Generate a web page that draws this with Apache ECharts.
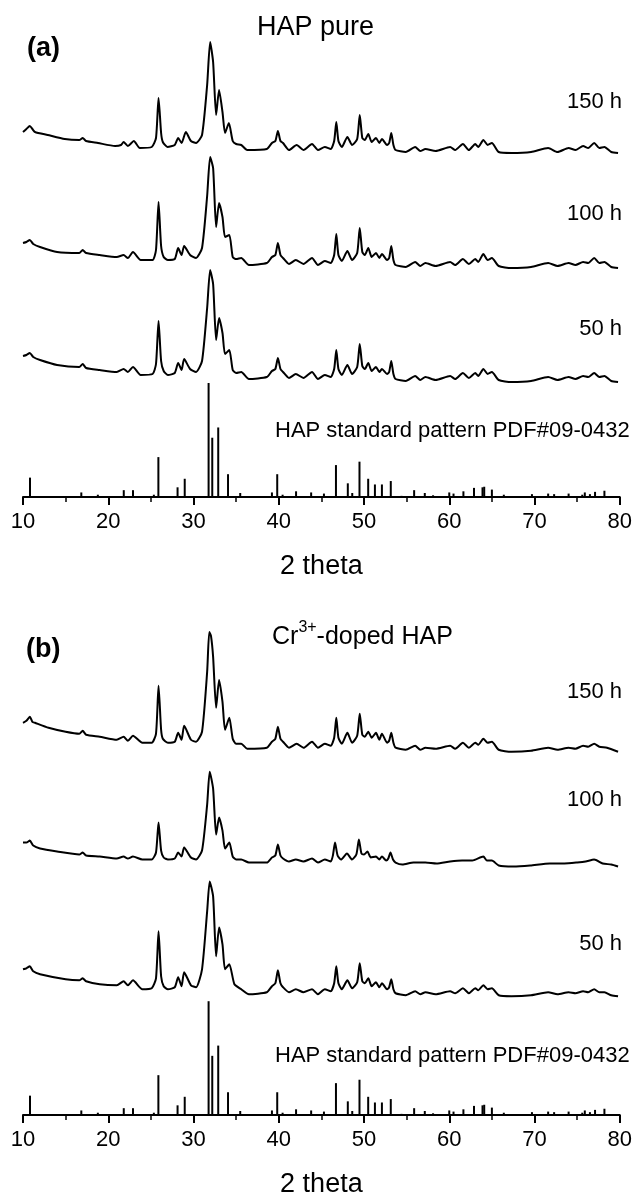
<!DOCTYPE html>
<html lang="en">
  <head>
    <meta charset="UTF-8" />
    <script src="https://cdn.jsdelivr.net/npm/echarts@6/dist/echarts.min.js"></script>
    <style>
      html, body { margin: 0; padding: 0; background: #fff; }
      #main { width: 635px; height: 1199px; }
    </style>
    <title>HAP XRD</title>
  </head>
  <body>
    <div id="main"></div>
    <script>
      // HAP standard pattern PDF#09-0432: [2theta, relative intensity %]
      const stdPattern = [
        [10.82, 17], [16.84, 4], [18.78, 2], [21.82, 6], [22.9, 6], [25.35, 2],
        [25.88, 35], [28.13, 8.5], [28.97, 16], [31.77, 100], [32.2, 52], [32.9, 61],
        [34.05, 20], [35.48, 3.5], [39.2, 4], [39.82, 20], [40.45, 2], [42.03, 5],
        [43.8, 4], [45.3, 3], [46.71, 28], [48.1, 12], [48.62, 3.5], [49.47, 31],
        [50.49, 16], [51.28, 11], [52.1, 11], [53.14, 14], [54.4, 1], [55.88, 6],
        [57.13, 3.5], [58.1, 1.5], [60.0, 4], [60.5, 3], [61.66, 5], [62.9, 8],
        [63.9, 8.5], [64.1, 9], [65.0, 6.5], [66.4, 2], [69.7, 2.5], [71.6, 3],
        [72.3, 2.5], [74.0, 3], [75.6, 2], [75.9, 4], [76.5, 2.5], [77.1, 4.5], [78.2, 5.5]
      ];

      // measured patterns, [2theta, intensity a.u.] above each curve's own base
      const pureH150 = [
        [10.0, 21], [10.4, 24], [10.8, 27], [11.1, 24], [11.4, 21], [12.9, 18], [14.9, 14],
        [16.6, 13], [17.0, 15], [17.4, 12], [18.8, 10], [20.8, 7], [21.5, 8], [21.8, 11],
        [22.3, 7], [23.0, 12], [23.7, 5], [25.1, 6], [25.6, 15], [25.9, 55], [26.2, 20],
        [26.4, 11], [26.95, 6], [27.8, 8], [28.2, 15], [28.6, 10], [29.1, 21], [29.7, 12],
        [30.3, 10], [31.0, 18], [31.6, 68], [31.95, 111], [32.3, 91], [32.65, 38], [33.0, 63],
        [33.4, 41], [33.7, 20], [34.15, 30], [34.6, 12], [35.0, 9], [35.6, 8], [36.3, 3],
        [38.6, 4], [39.2, 10], [39.6, 12], [39.9, 22], [40.2, 12], [40.5, 10], [41.2, 3],
        [42.1, 8], [42.9, 3], [43.9, 9], [44.6, 3], [45.4, 6], [46.1, 4], [46.5, 12],
        [46.75, 31], [47.0, 12], [47.4, 6], [48.05, 16], [48.6, 8], [49.2, 14], [49.5, 38],
        [49.8, 15], [50.1, 13], [50.5, 19], [50.9, 11], [51.4, 15], [51.8, 10], [52.1, 14],
        [52.7, 8], [52.95, 10], [53.2, 20], [53.45, 8], [53.7, 3], [54.9, 1], [56.0, 6],
        [56.6, 2], [57.2, 4], [58.4, 2], [60.1, 6], [60.7, 3], [61.6, 9], [62.3, 3],
        [63.05, 9], [63.4, 6], [64.0, 13], [64.5, 8], [65.0, 10], [65.8, 1], [67.3, 0],
        [69.6, 1], [71.6, 5], [72.7, 1], [74.0, 5], [74.8, 3], [75.7, 7], [76.3, 5],
        [77.0, 10], [77.6, 5], [78.2, 6], [79.0, 1], [79.8, 0]
      ];
      const pureH100 = [
        [10.0, 25], [10.4, 26], [10.8, 28], [11.2, 24], [12.0, 21], [14.0, 16], [16.6, 15],
        [17.0, 18], [17.4, 15], [19.0, 13], [21.0, 11], [21.8, 13], [22.3, 10], [22.9, 16],
        [23.8, 8], [25.2, 8], [25.6, 18], [25.9, 66], [26.2, 22], [26.5, 11], [27.0, 8],
        [27.8, 9], [28.2, 20], [28.6, 13], [28.9, 22], [29.6, 13], [30.3, 10], [31.0, 20],
        [31.6, 72], [31.95, 111], [32.3, 100], [32.65, 41], [33.0, 65], [33.4, 51], [33.7, 31],
        [34.2, 33], [34.6, 11], [35.0, 9], [35.6, 10], [36.5, 3], [38.6, 5], [39.2, 11],
        [39.6, 13], [39.9, 25], [40.2, 13], [40.5, 10], [41.2, 4], [42.0, 8], [42.9, 4],
        [43.9, 10], [44.6, 3], [45.4, 7], [46.1, 5], [46.5, 13], [46.75, 34], [47.0, 13],
        [47.4, 7], [48.05, 17], [48.6, 8], [49.2, 15], [49.5, 40], [49.8, 16], [50.1, 13],
        [50.5, 20], [50.9, 11], [51.4, 15], [51.8, 10], [52.1, 14], [52.7, 8], [52.95, 10],
        [53.2, 22], [53.45, 8], [53.7, 3], [54.9, 1], [56.0, 6], [56.6, 2], [57.2, 5],
        [58.4, 2], [60.1, 6], [60.7, 3], [61.6, 9], [62.3, 4], [63.05, 9], [63.4, 6],
        [64.0, 14], [64.5, 8], [65.0, 10], [65.8, 2], [67.3, 0], [69.6, 1], [71.6, 5],
        [72.7, 2], [74.0, 5], [74.8, 3], [75.7, 6], [76.3, 5], [77.0, 10], [77.6, 5],
        [78.2, 6], [79.0, 1], [79.8, 0]
      ];
      const pureH50 = [
        [10.0, 26], [10.4, 27], [10.8, 29], [11.2, 25], [12.0, 22], [14.0, 17], [16.6, 15],
        [17.0, 18], [17.4, 14], [19.0, 12], [21.0, 10], [21.8, 13], [22.3, 10], [22.9, 15],
        [23.8, 7], [25.2, 8], [25.6, 18], [25.9, 61], [26.2, 21], [26.5, 11], [27.0, 7],
        [27.8, 9], [28.2, 19], [28.6, 12], [28.9, 23], [29.6, 13], [30.3, 10], [31.0, 21],
        [31.6, 74], [31.95, 112], [32.3, 98], [32.65, 42], [33.0, 64], [33.4, 49], [33.7, 28],
        [34.2, 32], [34.6, 12], [35.0, 9], [35.6, 10], [36.5, 3], [38.6, 5], [39.2, 11],
        [39.6, 13], [39.9, 24], [40.2, 13], [40.5, 10], [41.2, 4], [42.0, 8], [42.9, 4],
        [43.9, 10], [44.6, 3], [45.4, 7], [46.1, 5], [46.5, 13], [46.75, 32], [47.0, 13],
        [47.4, 7], [48.05, 17], [48.6, 8], [49.2, 15], [49.5, 38], [49.8, 16], [50.1, 13],
        [50.5, 19], [50.9, 11], [51.4, 15], [51.8, 10], [52.1, 13], [52.7, 8], [52.95, 10],
        [53.2, 21], [53.45, 8], [53.7, 3], [54.9, 1], [56.0, 6], [56.6, 2], [57.2, 5],
        [58.4, 2], [60.1, 6], [60.7, 3], [61.6, 9], [62.3, 4], [63.05, 9], [63.4, 6],
        [64.0, 13], [64.5, 8], [65.0, 10], [65.8, 2], [67.3, 0], [69.6, 1], [71.6, 5],
        [72.7, 2], [74.0, 5], [74.8, 3], [75.7, 6], [76.3, 5], [77.0, 9], [77.6, 5],
        [78.2, 6], [79.0, 1], [79.8, 0]
      ];

      const crH150 = [
        [10.0, 29], [10.4, 31], [10.8, 35], [11.1, 30], [11.4, 29], [13.0, 24], [15.0, 20],
        [16.6, 18], [17.0, 21], [17.4, 17], [19.0, 15], [21.0, 12], [21.8, 15], [22.3, 11],
        [22.9, 16], [24.0, 9], [25.1, 9], [25.6, 18], [25.9, 66], [26.2, 22], [26.4, 13],
        [27.0, 9], [27.8, 10], [28.2, 19], [28.6, 12], [28.9, 26], [29.7, 12], [30.3, 10],
        [31.0, 20], [31.6, 80], [31.85, 120], [32.05, 116], [32.3, 95], [32.65, 44], [33.0, 72],
        [33.4, 50], [33.7, 22], [34.2, 34], [34.6, 13], [35.0, 8], [35.6, 8], [36.3, 3],
        [38.6, 4], [39.2, 10], [39.6, 13], [39.9, 25], [40.2, 13], [40.5, 10], [41.2, 4],
        [42.1, 8], [42.9, 4], [43.9, 10], [44.6, 4], [45.4, 8], [46.1, 6], [46.5, 14],
        [46.75, 34], [47.0, 14], [47.4, 8], [48.05, 19], [48.6, 9], [49.2, 16], [49.5, 38],
        [49.8, 17], [50.1, 15], [50.5, 20], [50.9, 14], [51.4, 19], [51.8, 12], [52.1, 18],
        [52.7, 9], [52.95, 11], [53.2, 19], [53.45, 9], [53.7, 4], [54.9, 2], [56.0, 6],
        [56.6, 2], [57.2, 4], [58.4, 3], [60.1, 6], [60.7, 3], [61.6, 9], [62.3, 4],
        [63.05, 9], [63.4, 7], [64.0, 13], [64.5, 9], [65.0, 10], [65.8, 2], [67.3, 0],
        [69.6, 1], [71.6, 4], [72.7, 2], [74.0, 4], [74.8, 3], [75.7, 6], [76.3, 5],
        [77.0, 8], [77.6, 5], [78.5, 4], [79.8, 0]
      ];
      const crH100 = [
        [10.0, 24], [10.4, 24], [10.8, 26], [11.2, 21], [12.0, 18], [14.0, 15], [16.6, 12],
        [17.0, 14], [17.4, 11], [19.0, 10], [21.0, 8], [21.8, 10], [22.3, 8], [22.9, 10],
        [24.0, 7], [25.1, 7], [25.6, 14], [25.9, 44], [26.2, 16], [26.5, 9], [27.0, 7],
        [27.8, 8], [28.2, 14], [28.6, 10], [28.9, 19], [29.7, 9], [30.3, 7], [31.0, 16],
        [31.6, 62], [31.9, 95], [32.3, 78], [32.65, 32], [33.0, 49], [33.4, 36], [33.7, 18],
        [34.2, 24], [34.6, 10], [35.0, 7], [35.6, 7], [36.5, 4], [38.6, 4], [39.2, 9],
        [39.6, 11], [39.9, 22], [40.2, 11], [40.5, 8], [41.2, 5], [42.0, 7], [42.9, 5],
        [43.9, 8], [44.6, 4], [45.4, 7], [46.1, 5], [46.35, 11], [46.6, 24], [46.9, 11],
        [47.3, 7], [48.0, 13], [48.6, 7], [49.1, 12], [49.4, 27], [49.7, 13], [50.0, 12],
        [50.4, 15], [50.8, 9], [51.4, 10], [51.8, 7], [52.1, 10], [52.6, 6], [52.85, 8],
        [53.1, 14], [53.4, 7], [53.7, 4], [54.5, 2], [55.8, 4], [57.2, 4], [58.5, 3],
        [60.1, 5], [61.5, 6], [62.7, 6], [64.0, 10], [64.4, 6], [65.0, 6], [65.8, 1],
        [67.5, 0], [69.5, 1], [71.8, 3], [73.5, 3], [75.0, 4], [76.0, 5], [77.0, 7],
        [78.0, 3], [79.0, 2], [79.8, 0]
      ];
      const crH50 = [
        [10.0, 27], [10.4, 28], [10.8, 30], [11.2, 25], [12.0, 22], [15.0, 17], [16.6, 16],
        [17.0, 18], [17.4, 15], [19.0, 12], [21.0, 11], [21.8, 15], [22.3, 11], [22.9, 16],
        [24.0, 7], [25.1, 8], [25.6, 18], [25.9, 65], [26.2, 20], [26.5, 10], [27.0, 7],
        [27.8, 9], [28.2, 19], [28.6, 10], [28.9, 24], [29.7, 11], [30.3, 9], [31.0, 27],
        [31.6, 85], [31.9, 115], [32.3, 100], [32.65, 40], [33.0, 69], [33.4, 52], [33.7, 27],
        [34.2, 32], [34.8, 12], [35.6, 7], [36.5, 2], [38.6, 4], [39.2, 10], [39.6, 13],
        [39.9, 26], [40.2, 13], [40.5, 9], [41.2, 4], [42.0, 7], [42.9, 4], [43.9, 7],
        [44.6, 2], [45.4, 7], [46.1, 5], [46.5, 13], [46.75, 30], [47.0, 13], [47.4, 7],
        [48.05, 16], [48.6, 8], [49.2, 14], [49.5, 33], [49.8, 15], [50.1, 13], [50.5, 18],
        [50.9, 10], [51.4, 14], [51.8, 9], [52.1, 13], [52.7, 7], [52.95, 9], [53.2, 17],
        [53.45, 7], [53.7, 3], [54.9, 1], [56.0, 5], [56.6, 2], [57.2, 4], [58.4, 2],
        [60.1, 5], [60.7, 3], [61.6, 8], [62.3, 3], [63.05, 8], [63.4, 6], [64.0, 11],
        [64.5, 7], [65.0, 8], [65.8, 1], [67.3, 0], [69.6, 1], [71.6, 4], [72.7, 2],
        [74.0, 4], [74.8, 3], [75.7, 5], [76.3, 4], [77.0, 7], [77.6, 4], [78.2, 4],
        [79.0, 1], [79.8, 0]
      ];

      // vertical stacking offsets (a.u.) for 150 h, 100 h, 50 h
      const offsetsPure = [344, 229, 115];
      const offsetsCr = [364, 249, 119];
      const timeLabels = ["150 h", "100 h", "50 h"];
      const xTicks = [10, 20, 30, 40, 50, 60, 70, 80];

      const chart = echarts.init(document.getElementById("main"));

      function shift(data, off) {
        return data.map((p) => [p[0], p[1] + off]);
      }

      function xAxisFor(gridIndex) {
        return {
          gridIndex: gridIndex,
          type: "value",
          min: xTicks[0],
          max: xTicks[xTicks.length - 1],
          interval: 10,
          name: "2 theta",
          nameLocation: "middle",
          nameGap: 56,
          nameTextStyle: { fontSize: 27, color: "#000", fontFamily: "Liberation Sans" },
          axisLine: { lineStyle: { color: "#000", width: 2 } },
          axisTick: { length: 8, lineStyle: { color: "#000", width: 2 } },
          minorTick: { show: true, splitNumber: 2, length: 5, lineStyle: { color: "#000", width: 1.5 } },
          axisLabel: { color: "#000", fontSize: 22, margin: 14, fontFamily: "Liberation Sans" },
          splitLine: { show: false },
        };
      }

      const series = [];
      const panels = [
        { traces: [pureH150, pureH100, pureH50], offsets: offsetsPure },
        { traces: [crH150, crH100, crH50], offsets: offsetsCr },
      ];
      panels.forEach((panel, g) => {
        panel.traces.forEach((tr, i) => {
          series.push({
            type: "line",
            xAxisIndex: g,
            yAxisIndex: g * 2,
            data: shift(tr, panel.offsets[i]),
            showSymbol: false,
            smooth: 0.2,
            lineStyle: { color: "#000", width: 2 },
            silent: true,
          });
        });
        series.push({
          type: "bar",
          xAxisIndex: g,
          yAxisIndex: g * 2 + 1,
          data: stdPattern,
          barWidth: 2,
          itemStyle: { color: "#000" },
          silent: true,
        });
      });

      const font = "Liberation Sans";
      function txt(text, pos, size, bold) {
        return Object.assign(
          {
            type: "text",
            style: {
              text: text,
              fontSize: size,
              fontWeight: bold ? "bold" : "normal",
              fill: "#000",
              fontFamily: font,
            },
          },
          pos
        );
      }

      const graphics = [
        txt("HAP pure", { left: 257, top: 14 }, 27),
        txt("(a)", { left: 27, top: 35 }, 27, true),
        txt("HAP standard pattern PDF#09-0432", { left: 275, top: 420 }, 22),
        txt("(b)", { left: 26, top: 636 }, 27, true),
        {
          type: "text",
          left: 272,
          top: 620,
          style: {
            rich: {
              n: { fontSize: 25, fill: "#000", fontFamily: font, lineHeight: 30, verticalAlign: "bottom" },
              s: { fontSize: 16, fill: "#000", fontFamily: font, lineHeight: 30, verticalAlign: "top" },
            },
            text: "{n|Cr}{s|3+}{n|-doped HAP}",
          },
        },
        txt("HAP standard pattern PDF#09-0432", { left: 275, top: 1045 }, 22),
      ];
      const labelTopsPure = [91, 203, 318];
      const labelTopsCr = [681, 789, 933];
      timeLabels.forEach((t, i) => {
        graphics.push(txt(t, { right: 13, top: labelTopsPure[i] }, 22));
        graphics.push(txt(t, { right: 13, top: labelTopsCr[i] }, 22));
      });

      chart.setOption({
        animation: false,
        backgroundColor: "#fff",
        grid: [
          { left: 23, right: 13, top: 0, bottom: 702 },
          { left: 23, right: 13, top: 620, bottom: 83 },
        ],
        xAxis: [xAxisFor(0), xAxisFor(1)],
        yAxis: [
          { gridIndex: 0, type: "value", min: 0, max: 497, show: false },
          { gridIndex: 0, type: "value", min: 0, max: 436, show: false },
          { gridIndex: 1, type: "value", min: 0, max: 496, show: false },
          { gridIndex: 1, type: "value", min: 0, max: 435, show: false },
        ],
        series: series,
        graphic: graphics,
      });
    </script>
  </body>
</html>
